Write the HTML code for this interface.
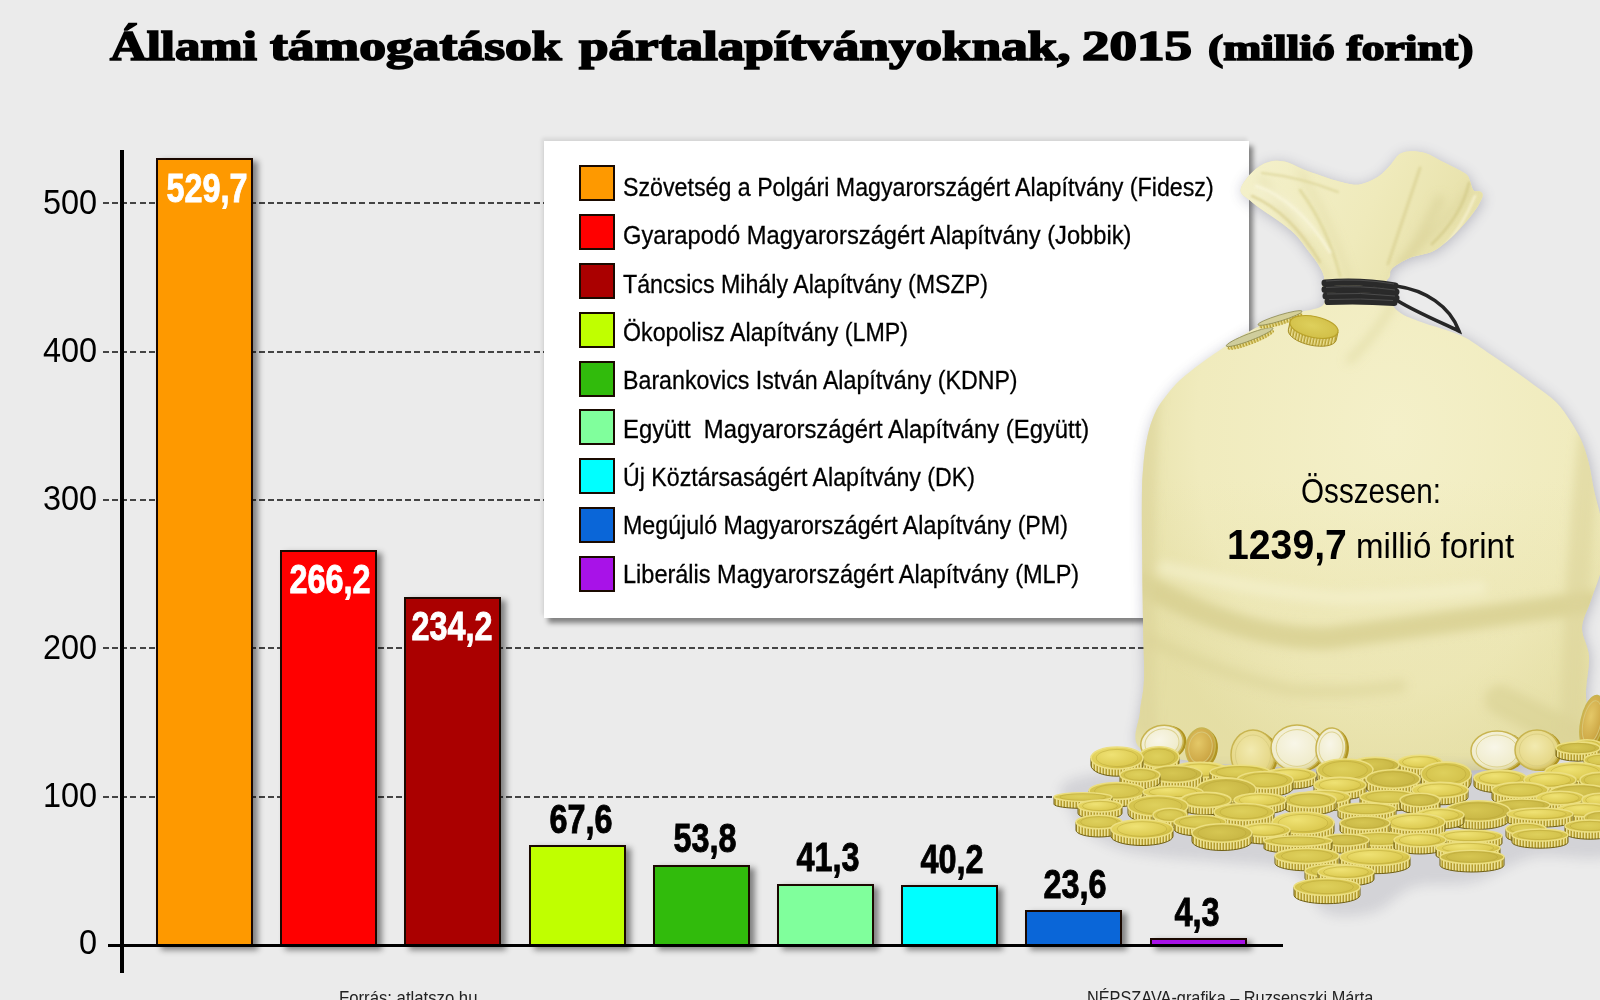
<!DOCTYPE html>
<html><head><meta charset="utf-8">
<style>
*{margin:0;padding:0;box-sizing:border-box}
html,body{width:1600px;height:1000px;overflow:hidden;background:#ebebeb}
body{position:relative;font-family:"Liberation Sans",sans-serif;color:#000}
.abs{position:absolute}
.t{position:absolute;font-family:"Liberation Serif",serif;font-weight:bold;line-height:1;white-space:nowrap;transform-origin:0 0;-webkit-text-stroke:1.7px #000}
.grid{position:absolute;left:103px;width:1190px;height:2px;background:repeating-linear-gradient(90deg,#444 0 6px,transparent 6px 9.16px)}
.ylab{position:absolute;width:80px;text-align:right;left:17px;font-size:34.5px;line-height:1;transform:scaleX(0.94);transform-origin:100% 0}
.bar{position:absolute;width:97px;border:2px solid #1a0800;box-shadow:5px 3px 6px rgba(0,0,0,0.45)}
.val{position:absolute;width:140px;text-align:center;font-weight:bold;font-size:41px;line-height:1;transform:scaleX(0.79);transform-origin:50% 0;white-space:nowrap}
.val{-webkit-text-stroke:0.9px #000}
.val.w{color:#fff;-webkit-text-stroke:0.9px #fff}
#legend{position:absolute;left:544px;top:141px;width:705px;height:477px;background:#fff;box-shadow:4px 5px 5px rgba(0,0,0,0.45),-2px -3px 4px rgba(0,0,0,0.09)}
.sw{position:absolute;left:35px;width:36px;height:36px;border:2px solid #1a0a00}
.lt{position:absolute;left:79px;font-size:26.2px;line-height:1;white-space:nowrap;transform:scaleX(0.886);transform-origin:0 0;-webkit-text-stroke:0.3px #000}
.foot{position:absolute;font-size:19px;line-height:1;color:#222;white-space:nowrap;transform:scaleX(0.88);transform-origin:0 0}
</style></head><body>
<div class="t" style="left:110px;top:24.8px;font-size:42px;transform:scaleX(1.21)">Állami</div>
<div class="t" style="left:270px;top:24.8px;font-size:42px;transform:scaleX(1.275)">támogatások</div>
<div class="t" style="left:579px;top:24.8px;font-size:42px;transform:scaleX(1.265)">pártalapítványoknak,</div>
<div class="t" style="left:1082px;top:24.8px;font-size:42px;transform:scaleX(1.31)">2015</div>
<div class="t" style="left:1208px;top:29.8px;font-size:36px;transform:scaleX(1.27)">(millió forint)</div>

<div class="grid" style="top:202.3px;width:1140px"></div>
<div class="grid" style="top:350.6px"></div>
<div class="grid" style="top:499px"></div>
<div class="grid" style="top:647.3px"></div>
<div class="grid" style="top:795.6px"></div>

<div class="ylab" style="top:184.5px">500</div>
<div class="ylab" style="top:332.8px">400</div>
<div class="ylab" style="top:481.2px">300</div>
<div class="ylab" style="top:629.5px">200</div>
<div class="ylab" style="top:777.8px">100</div>
<div class="ylab" style="top:925px">0</div>

<div class="abs" style="left:120px;top:150px;width:3.5px;height:823px;background:#000"></div>

<div class="bar" style="left:156px;top:158px;height:789px;background:#fe9900"></div>
<div class="bar" style="left:280px;top:549.5px;height:397.5px;background:#ff0000"></div>
<div class="bar" style="left:404px;top:597px;height:350px;background:#aa0000"></div>
<div class="bar" style="left:528.5px;top:844.5px;height:102.5px;background:#c0ff00"></div>
<div class="bar" style="left:652.5px;top:865px;height:82px;background:#31bb0c"></div>
<div class="bar" style="left:777px;top:883.5px;height:63.5px;background:#80ff9c"></div>
<div class="bar" style="left:901px;top:885px;height:62px;background:#00ffff"></div>
<div class="bar" style="left:1025px;top:909.5px;height:37.5px;background:#0a66d8"></div>
<div class="bar" style="left:1149.5px;top:938px;height:9px;background:#a812e8"></div>

<div class="abs" style="left:108px;top:944px;width:1175px;height:3.2px;background:#000"></div>

<div class="val w" style="left:137px;top:168px">529,7</div>
<div class="val w" style="left:260px;top:558.5px">266,2</div>
<div class="val w" style="left:382px;top:606px">234,2</div>
<div class="val" style="left:511px;top:799px">67,6</div>
<div class="val" style="left:635px;top:817.5px">53,8</div>
<div class="val" style="left:757.5px;top:837px">41,3</div>
<div class="val" style="left:881.5px;top:839px">40,2</div>
<div class="val" style="left:1004.5px;top:864px">23,6</div>
<div class="val" style="left:1127px;top:892px">4,3</div>

<div id="legend">
<div class="sw" style="top:24px;background:#fe9900"></div><div class="lt" style="top:33.00px">Szövetség a Polgári Magyarországért Alapítvány (Fidesz)</div>
<div class="sw" style="top:73px;background:#ff0000"></div><div class="lt" style="top:81.33px;transform:scaleX(0.905)">Gyarapodó Magyarországért Alapítvány (Jobbik)</div>
<div class="sw" style="top:121.75px;background:#aa0000"></div><div class="lt" style="top:129.66px">Táncsics Mihály Alapítvány (MSZP)</div>
<div class="sw" style="top:170.6px;background:#c0ff00"></div><div class="lt" style="top:177.99px">Ökopolisz Alapítvány (LMP)</div>
<div class="sw" style="top:219.5px;background:#31bb0c"></div><div class="lt" style="top:226.32px">Barankovics István Alapítvány (KDNP)</div>
<div class="sw" style="top:268.4px;background:#80ff9c"></div><div class="lt" style="top:274.65px;transform:scaleX(0.91)">Együtt&nbsp; Magyarországért Alapítvány (Együtt)</div>
<div class="sw" style="top:317.25px;background:#00ffff"></div><div class="lt" style="top:322.98px">Új Köztársaságért Alapítvány (DK)</div>
<div class="sw" style="top:366.1px;background:#0a66d8"></div><div class="lt" style="top:371.31px">Megújuló Magyarországért Alapítvány (PM)</div>
<div class="sw" style="top:415px;background:#a812e8"></div><div class="lt" style="top:419.64px;transform:scaleX(0.898)">Liberális Magyarországért Alapítvány (MLP)</div>
</div>


<svg class="abs" style="left:0;top:0" width="1600" height="1000" viewBox="0 0 1600 1000">
<defs>
 <radialGradient id="bagg" cx="0.55" cy="0.45" r="0.6">
  <stop offset="0" stop-color="#f4f0c9"/>
  <stop offset="0.7" stop-color="#f0ebbd"/>
  <stop offset="1" stop-color="#e6e0a8"/>
 </radialGradient>
 <linearGradient id="flapg" x1="0" y1="0" x2="1" y2="0.3">
  <stop offset="0" stop-color="#f4f1cc"/>
  <stop offset="0.6" stop-color="#efeabb"/>
  <stop offset="1" stop-color="#e7e1aa"/>
 </linearGradient>
 <radialGradient id="face" cx="0.45" cy="0.45" r="0.6">
  <stop offset="0" stop-color="#ded05c"/>
  <stop offset="0.85" stop-color="#d3c14a"/>
  <stop offset="1" stop-color="#c4b03a"/>
 </radialGradient>
 <radialGradient id="faceB" cx="0.4" cy="0.35" r="0.65">
  <stop offset="0" stop-color="#efe274"/>
  <stop offset="0.8" stop-color="#ddcb52"/>
  <stop offset="1" stop-color="#cab63e"/>
 </radialGradient>
 <radialGradient id="faceC" cx="0.45" cy="0.45" r="0.6">
  <stop offset="0" stop-color="#d6c652"/>
  <stop offset="0.85" stop-color="#c8b644"/>
  <stop offset="1" stop-color="#b6a234"/>
 </radialGradient>
 <radialGradient id="oface" cx="0.4" cy="0.4" r="0.65">
  <stop offset="0" stop-color="#e4c868"/>
  <stop offset="0.8" stop-color="#cca644"/>
  <stop offset="1" stop-color="#b08a2c"/>
 </radialGradient>
 <radialGradient id="lface" cx="0.45" cy="0.4" r="0.6">
  <stop offset="0" stop-color="#f2eab0"/>
  <stop offset="0.8" stop-color="#e6d888"/>
  <stop offset="1" stop-color="#d4c060"/>
 </radialGradient>
 <radialGradient id="wface" cx="0.45" cy="0.4" r="0.6">
  <stop offset="0" stop-color="#f8f6e8"/>
  <stop offset="0.8" stop-color="#f0eccc"/>
  <stop offset="1" stop-color="#ddd498"/>
 </radialGradient>
 <pattern id="ridge" width="3" height="20" patternUnits="userSpaceOnUse">
  <rect width="3" height="20" fill="#b49c2e"/>
  <rect width="1.5" height="20" fill="#ece296"/>
 </pattern>
 <clipPath id="bagclip"><path d="M1240.6,190.4 C1240.6,186.2 1245.8,179.3 1249.5,175.0 C1253.2,170.7 1258.2,166.8 1262.5,164.4 C1266.8,162.0 1271.2,161.1 1275.5,160.8 C1279.8,160.5 1283.6,161.2 1288.5,162.7 C1293.4,164.2 1299.3,167.8 1304.7,170.0 C1310.1,172.2 1315.8,173.9 1321.0,175.7 C1326.2,177.5 1330.2,179.1 1335.6,180.6 C1341.0,182.1 1348.6,184.3 1353.5,184.7 C1358.4,185.1 1360.7,184.5 1365.0,183.0 C1369.3,181.5 1375.2,178.8 1379.5,175.7 C1383.8,172.6 1387.8,167.9 1391.0,164.4 C1394.2,160.9 1396.0,156.8 1399.0,154.6 C1402.0,152.4 1404.4,151.7 1408.7,151.4 C1413.0,151.1 1419.6,151.4 1425.0,153.0 C1430.4,154.6 1435.6,158.3 1441.0,161.0 C1446.4,163.7 1453.2,166.9 1457.5,169.2 C1461.8,171.5 1464.9,173.0 1467.0,175.0 C1469.1,177.0 1468.9,178.4 1470.0,181.0 C1471.1,183.6 1472.0,188.8 1473.7,190.5 C1475.4,192.2 1478.5,190.7 1480.0,191.5 C1481.5,192.3 1482.9,193.2 1482.7,195.5 C1482.5,197.8 1480.6,201.5 1478.6,205.0 C1476.6,208.5 1473.5,212.6 1470.5,216.4 C1467.5,220.2 1464.5,223.6 1460.7,227.7 C1456.9,231.8 1452.6,236.6 1447.7,240.7 C1442.8,244.8 1437.5,249.3 1431.5,252.0 C1425.5,254.7 1417.4,255.1 1412.0,257.0 C1406.6,258.9 1402.5,261.3 1399.0,263.5 C1395.5,265.7 1393.0,267.2 1391.0,270.0 C1389.0,272.8 1387.2,276.3 1387.0,280.0 C1386.8,283.7 1389.2,288.0 1390.0,292.0 C1390.8,296.0 1390.0,300.3 1392.0,304.0 C1394.0,307.7 1396.7,310.8 1402.0,314.0 C1407.3,317.2 1416.7,320.3 1424.0,323.0 C1431.3,325.7 1439.0,327.5 1446.0,330.0 C1453.0,332.5 1458.7,334.0 1466.0,338.0 C1473.3,342.0 1482.3,348.8 1490.0,354.0 C1497.7,359.2 1504.7,363.8 1512.0,369.0 C1519.3,374.2 1526.7,379.5 1534.0,385.0 C1541.3,390.5 1549.8,395.8 1556.0,402.0 C1562.2,408.2 1566.7,415.3 1571.0,422.0 C1575.3,428.7 1579.0,435.0 1582.0,442.0 C1585.0,449.0 1587.0,456.0 1589.0,464.0 C1591.0,472.0 1591.7,479.0 1594.0,490.0 C1596.3,501.0 1601.7,517.3 1603.0,530.0 C1604.3,542.7 1604.0,554.3 1602.0,566.0 C1600.0,577.7 1594.3,589.7 1591.0,600.0 C1587.7,610.3 1582.3,618.7 1582.0,628.0 C1581.7,637.3 1588.3,645.7 1589.0,656.0 C1589.7,666.3 1586.5,679.0 1586.0,690.0 C1585.5,701.0 1588.3,712.3 1586.0,722.0 C1583.7,731.7 1586.3,740.3 1572.0,748.0 C1557.7,755.7 1528.7,764.0 1500.0,768.0 C1471.3,772.0 1433.3,772.0 1400.0,772.0 C1366.7,772.0 1333.3,769.7 1300.0,768.0 C1266.7,766.3 1226.7,765.3 1200.0,762.0 C1173.3,758.7 1150.0,756.3 1140.0,748.0 C1130.0,739.7 1139.3,723.3 1140.0,712.0 C1140.7,700.7 1143.5,695.3 1144.0,680.0 C1144.5,664.7 1143.3,643.3 1143.0,620.0 C1142.7,596.7 1142.2,561.7 1142.0,540.0 C1141.8,518.3 1141.8,501.7 1142.0,490.0 C1142.2,478.3 1142.5,476.7 1143.0,470.0 C1143.5,463.3 1144.0,456.7 1145.0,450.0 C1146.0,443.3 1147.2,436.5 1149.0,430.0 C1150.8,423.5 1153.2,416.7 1156.0,411.0 C1158.8,405.3 1162.0,401.2 1166.0,396.0 C1170.0,390.8 1174.3,385.3 1180.0,380.0 C1185.7,374.7 1193.3,369.0 1200.0,364.0 C1206.7,359.0 1211.7,355.5 1220.0,350.0 C1228.3,344.5 1241.3,335.8 1250.0,331.0 C1258.7,326.2 1264.3,324.0 1272.0,321.0 C1279.7,318.0 1287.7,315.5 1296.0,313.0 C1304.3,310.5 1317.3,309.5 1322.0,306.0 C1326.7,302.5 1323.7,296.9 1324.0,292.0 C1324.3,287.1 1325.0,281.2 1324.0,276.5 C1323.0,271.8 1320.4,267.8 1317.7,263.5 C1315.0,259.2 1311.8,255.4 1308.0,250.5 C1304.2,245.6 1299.9,238.9 1295.0,234.0 C1290.1,229.1 1284.1,225.0 1278.7,221.0 C1273.3,217.0 1267.4,213.5 1262.5,210.0 C1257.6,206.5 1253.2,203.3 1249.5,200.0 C1245.8,196.7 1240.6,194.6 1240.6,190.4Z"/></clipPath>
 <linearGradient id="lowg" x1="0" y1="0" x2="0" y2="1">
  <stop offset="0" stop-color="#e2da9c" stop-opacity="0"/>
  <stop offset="0.5" stop-color="#e2da9c" stop-opacity="0.25"/>
  <stop offset="1" stop-color="#e2da9c" stop-opacity="0.35"/>
 </linearGradient>
 <filter id="fold2" x="-20%" y="-20%" width="140%" height="140%"><feGaussianBlur stdDeviation="1.2"/></filter>
 <filter id="fold" x="-20%" y="-20%" width="140%" height="140%"><feGaussianBlur stdDeviation="5"/></filter>
 <filter id="bs" x="-10%" y="-10%" width="120%" height="120%"><feGaussianBlur stdDeviation="7"/></filter>
 <filter id="cs" x="-10%" y="-30%" width="120%" height="160%"><feGaussianBlur stdDeviation="6"/></filter>
</defs>
<path d="M1240.6,190.4 C1240.6,186.2 1245.8,179.3 1249.5,175.0 C1253.2,170.7 1258.2,166.8 1262.5,164.4 C1266.8,162.0 1271.2,161.1 1275.5,160.8 C1279.8,160.5 1283.6,161.2 1288.5,162.7 C1293.4,164.2 1299.3,167.8 1304.7,170.0 C1310.1,172.2 1315.8,173.9 1321.0,175.7 C1326.2,177.5 1330.2,179.1 1335.6,180.6 C1341.0,182.1 1348.6,184.3 1353.5,184.7 C1358.4,185.1 1360.7,184.5 1365.0,183.0 C1369.3,181.5 1375.2,178.8 1379.5,175.7 C1383.8,172.6 1387.8,167.9 1391.0,164.4 C1394.2,160.9 1396.0,156.8 1399.0,154.6 C1402.0,152.4 1404.4,151.7 1408.7,151.4 C1413.0,151.1 1419.6,151.4 1425.0,153.0 C1430.4,154.6 1435.6,158.3 1441.0,161.0 C1446.4,163.7 1453.2,166.9 1457.5,169.2 C1461.8,171.5 1464.9,173.0 1467.0,175.0 C1469.1,177.0 1468.9,178.4 1470.0,181.0 C1471.1,183.6 1472.0,188.8 1473.7,190.5 C1475.4,192.2 1478.5,190.7 1480.0,191.5 C1481.5,192.3 1482.9,193.2 1482.7,195.5 C1482.5,197.8 1480.6,201.5 1478.6,205.0 C1476.6,208.5 1473.5,212.6 1470.5,216.4 C1467.5,220.2 1464.5,223.6 1460.7,227.7 C1456.9,231.8 1452.6,236.6 1447.7,240.7 C1442.8,244.8 1437.5,249.3 1431.5,252.0 C1425.5,254.7 1417.4,255.1 1412.0,257.0 C1406.6,258.9 1402.5,261.3 1399.0,263.5 C1395.5,265.7 1393.0,267.2 1391.0,270.0 C1389.0,272.8 1387.2,276.3 1387.0,280.0 C1386.8,283.7 1389.2,288.0 1390.0,292.0 C1390.8,296.0 1390.0,300.3 1392.0,304.0 C1394.0,307.7 1396.7,310.8 1402.0,314.0 C1407.3,317.2 1416.7,320.3 1424.0,323.0 C1431.3,325.7 1439.0,327.5 1446.0,330.0 C1453.0,332.5 1458.7,334.0 1466.0,338.0 C1473.3,342.0 1482.3,348.8 1490.0,354.0 C1497.7,359.2 1504.7,363.8 1512.0,369.0 C1519.3,374.2 1526.7,379.5 1534.0,385.0 C1541.3,390.5 1549.8,395.8 1556.0,402.0 C1562.2,408.2 1566.7,415.3 1571.0,422.0 C1575.3,428.7 1579.0,435.0 1582.0,442.0 C1585.0,449.0 1587.0,456.0 1589.0,464.0 C1591.0,472.0 1591.7,479.0 1594.0,490.0 C1596.3,501.0 1601.7,517.3 1603.0,530.0 C1604.3,542.7 1604.0,554.3 1602.0,566.0 C1600.0,577.7 1594.3,589.7 1591.0,600.0 C1587.7,610.3 1582.3,618.7 1582.0,628.0 C1581.7,637.3 1588.3,645.7 1589.0,656.0 C1589.7,666.3 1586.5,679.0 1586.0,690.0 C1585.5,701.0 1588.3,712.3 1586.0,722.0 C1583.7,731.7 1586.3,740.3 1572.0,748.0 C1557.7,755.7 1528.7,764.0 1500.0,768.0 C1471.3,772.0 1433.3,772.0 1400.0,772.0 C1366.7,772.0 1333.3,769.7 1300.0,768.0 C1266.7,766.3 1226.7,765.3 1200.0,762.0 C1173.3,758.7 1150.0,756.3 1140.0,748.0 C1130.0,739.7 1139.3,723.3 1140.0,712.0 C1140.7,700.7 1143.5,695.3 1144.0,680.0 C1144.5,664.7 1143.3,643.3 1143.0,620.0 C1142.7,596.7 1142.2,561.7 1142.0,540.0 C1141.8,518.3 1141.8,501.7 1142.0,490.0 C1142.2,478.3 1142.5,476.7 1143.0,470.0 C1143.5,463.3 1144.0,456.7 1145.0,450.0 C1146.0,443.3 1147.2,436.5 1149.0,430.0 C1150.8,423.5 1153.2,416.7 1156.0,411.0 C1158.8,405.3 1162.0,401.2 1166.0,396.0 C1170.0,390.8 1174.3,385.3 1180.0,380.0 C1185.7,374.7 1193.3,369.0 1200.0,364.0 C1206.7,359.0 1211.7,355.5 1220.0,350.0 C1228.3,344.5 1241.3,335.8 1250.0,331.0 C1258.7,326.2 1264.3,324.0 1272.0,321.0 C1279.7,318.0 1287.7,315.5 1296.0,313.0 C1304.3,310.5 1317.3,309.5 1322.0,306.0 C1326.7,302.5 1323.7,296.9 1324.0,292.0 C1324.3,287.1 1325.0,281.2 1324.0,276.5 C1323.0,271.8 1320.4,267.8 1317.7,263.5 C1315.0,259.2 1311.8,255.4 1308.0,250.5 C1304.2,245.6 1299.9,238.9 1295.0,234.0 C1290.1,229.1 1284.1,225.0 1278.7,221.0 C1273.3,217.0 1267.4,213.5 1262.5,210.0 C1257.6,206.5 1253.2,203.3 1249.5,200.0 C1245.8,196.7 1240.6,194.6 1240.6,190.4Z" fill="#40405e" opacity="0.3" filter="url(#bs)" transform="translate(1,2)"/>
<path d="M1240.6,190.4 C1240.6,186.2 1245.8,179.3 1249.5,175.0 C1253.2,170.7 1258.2,166.8 1262.5,164.4 C1266.8,162.0 1271.2,161.1 1275.5,160.8 C1279.8,160.5 1283.6,161.2 1288.5,162.7 C1293.4,164.2 1299.3,167.8 1304.7,170.0 C1310.1,172.2 1315.8,173.9 1321.0,175.7 C1326.2,177.5 1330.2,179.1 1335.6,180.6 C1341.0,182.1 1348.6,184.3 1353.5,184.7 C1358.4,185.1 1360.7,184.5 1365.0,183.0 C1369.3,181.5 1375.2,178.8 1379.5,175.7 C1383.8,172.6 1387.8,167.9 1391.0,164.4 C1394.2,160.9 1396.0,156.8 1399.0,154.6 C1402.0,152.4 1404.4,151.7 1408.7,151.4 C1413.0,151.1 1419.6,151.4 1425.0,153.0 C1430.4,154.6 1435.6,158.3 1441.0,161.0 C1446.4,163.7 1453.2,166.9 1457.5,169.2 C1461.8,171.5 1464.9,173.0 1467.0,175.0 C1469.1,177.0 1468.9,178.4 1470.0,181.0 C1471.1,183.6 1472.0,188.8 1473.7,190.5 C1475.4,192.2 1478.5,190.7 1480.0,191.5 C1481.5,192.3 1482.9,193.2 1482.7,195.5 C1482.5,197.8 1480.6,201.5 1478.6,205.0 C1476.6,208.5 1473.5,212.6 1470.5,216.4 C1467.5,220.2 1464.5,223.6 1460.7,227.7 C1456.9,231.8 1452.6,236.6 1447.7,240.7 C1442.8,244.8 1437.5,249.3 1431.5,252.0 C1425.5,254.7 1417.4,255.1 1412.0,257.0 C1406.6,258.9 1402.5,261.3 1399.0,263.5 C1395.5,265.7 1393.0,267.2 1391.0,270.0 C1389.0,272.8 1387.2,276.3 1387.0,280.0 C1386.8,283.7 1389.2,288.0 1390.0,292.0 C1390.8,296.0 1390.0,300.3 1392.0,304.0 C1394.0,307.7 1396.7,310.8 1402.0,314.0 C1407.3,317.2 1416.7,320.3 1424.0,323.0 C1431.3,325.7 1439.0,327.5 1446.0,330.0 C1453.0,332.5 1458.7,334.0 1466.0,338.0 C1473.3,342.0 1482.3,348.8 1490.0,354.0 C1497.7,359.2 1504.7,363.8 1512.0,369.0 C1519.3,374.2 1526.7,379.5 1534.0,385.0 C1541.3,390.5 1549.8,395.8 1556.0,402.0 C1562.2,408.2 1566.7,415.3 1571.0,422.0 C1575.3,428.7 1579.0,435.0 1582.0,442.0 C1585.0,449.0 1587.0,456.0 1589.0,464.0 C1591.0,472.0 1591.7,479.0 1594.0,490.0 C1596.3,501.0 1601.7,517.3 1603.0,530.0 C1604.3,542.7 1604.0,554.3 1602.0,566.0 C1600.0,577.7 1594.3,589.7 1591.0,600.0 C1587.7,610.3 1582.3,618.7 1582.0,628.0 C1581.7,637.3 1588.3,645.7 1589.0,656.0 C1589.7,666.3 1586.5,679.0 1586.0,690.0 C1585.5,701.0 1588.3,712.3 1586.0,722.0 C1583.7,731.7 1586.3,740.3 1572.0,748.0 C1557.7,755.7 1528.7,764.0 1500.0,768.0 C1471.3,772.0 1433.3,772.0 1400.0,772.0 C1366.7,772.0 1333.3,769.7 1300.0,768.0 C1266.7,766.3 1226.7,765.3 1200.0,762.0 C1173.3,758.7 1150.0,756.3 1140.0,748.0 C1130.0,739.7 1139.3,723.3 1140.0,712.0 C1140.7,700.7 1143.5,695.3 1144.0,680.0 C1144.5,664.7 1143.3,643.3 1143.0,620.0 C1142.7,596.7 1142.2,561.7 1142.0,540.0 C1141.8,518.3 1141.8,501.7 1142.0,490.0 C1142.2,478.3 1142.5,476.7 1143.0,470.0 C1143.5,463.3 1144.0,456.7 1145.0,450.0 C1146.0,443.3 1147.2,436.5 1149.0,430.0 C1150.8,423.5 1153.2,416.7 1156.0,411.0 C1158.8,405.3 1162.0,401.2 1166.0,396.0 C1170.0,390.8 1174.3,385.3 1180.0,380.0 C1185.7,374.7 1193.3,369.0 1200.0,364.0 C1206.7,359.0 1211.7,355.5 1220.0,350.0 C1228.3,344.5 1241.3,335.8 1250.0,331.0 C1258.7,326.2 1264.3,324.0 1272.0,321.0 C1279.7,318.0 1287.7,315.5 1296.0,313.0 C1304.3,310.5 1317.3,309.5 1322.0,306.0 C1326.7,302.5 1323.7,296.9 1324.0,292.0 C1324.3,287.1 1325.0,281.2 1324.0,276.5 C1323.0,271.8 1320.4,267.8 1317.7,263.5 C1315.0,259.2 1311.8,255.4 1308.0,250.5 C1304.2,245.6 1299.9,238.9 1295.0,234.0 C1290.1,229.1 1284.1,225.0 1278.7,221.0 C1273.3,217.0 1267.4,213.5 1262.5,210.0 C1257.6,206.5 1253.2,203.3 1249.5,200.0 C1245.8,196.7 1240.6,194.6 1240.6,190.4Z" fill="url(#bagg)"/>
<path d="M1240.6,190.4 C1240.6,186.2 1245.8,179.3 1249.5,175.0 C1253.2,170.7 1258.2,166.8 1262.5,164.4 C1266.8,162.0 1271.2,161.1 1275.5,160.8 C1279.8,160.5 1283.6,161.2 1288.5,162.7 C1293.4,164.2 1299.3,167.8 1304.7,170.0 C1310.1,172.2 1315.8,173.9 1321.0,175.7 C1326.2,177.5 1330.2,179.1 1335.6,180.6 C1341.0,182.1 1348.6,184.3 1353.5,184.7 C1358.4,185.1 1360.7,184.5 1365.0,183.0 C1369.3,181.5 1375.2,178.8 1379.5,175.7 C1383.8,172.6 1387.8,167.9 1391.0,164.4 C1394.2,160.9 1396.0,156.8 1399.0,154.6 C1402.0,152.4 1404.4,151.7 1408.7,151.4 C1413.0,151.1 1419.6,151.4 1425.0,153.0 C1430.4,154.6 1435.6,158.3 1441.0,161.0 C1446.4,163.7 1453.2,166.9 1457.5,169.2 C1461.8,171.5 1464.9,173.0 1467.0,175.0 C1469.1,177.0 1468.9,178.4 1470.0,181.0 C1471.1,183.6 1472.0,188.8 1473.7,190.5 C1475.4,192.2 1478.5,190.7 1480.0,191.5 C1481.5,192.3 1482.9,193.2 1482.7,195.5 C1482.5,197.8 1480.6,201.5 1478.6,205.0 C1476.6,208.5 1473.5,212.6 1470.5,216.4 C1467.5,220.2 1464.5,223.6 1460.7,227.7 C1456.9,231.8 1452.6,236.6 1447.7,240.7 C1442.8,244.8 1437.5,249.3 1431.5,252.0 C1425.5,254.7 1417.4,255.1 1412.0,257.0 C1406.6,258.9 1402.5,261.3 1399.0,263.5 C1395.5,265.7 1393.0,267.2 1391.0,270.0 C1389.0,272.8 1392.2,276.3 1387.0,280.0 C1381.8,283.7 1370.3,290.3 1360.0,292.0 C1349.7,293.7 1331.0,292.6 1325.0,290.0 C1319.0,287.4 1325.2,280.9 1324.0,276.5 C1322.8,272.1 1320.4,267.8 1317.7,263.5 C1315.0,259.2 1311.8,255.4 1308.0,250.5 C1304.2,245.6 1299.9,238.9 1295.0,234.0 C1290.1,229.1 1284.1,225.0 1278.7,221.0 C1273.3,217.0 1267.4,213.5 1262.5,210.0 C1257.6,206.5 1253.2,203.3 1249.5,200.0 C1245.8,196.7 1240.6,194.6 1240.6,190.4Z" fill="url(#flapg)"/>
<g clip-path="url(#bagclip)">
<rect x="1130" y="480" width="480" height="300" fill="url(#lowg)"/>
<g fill="none" stroke-linecap="round" filter="url(#fold)">
 <path d="M1140,583 Q1250,642 1330,638 Q1450,622 1590,602" stroke="#d6cd8e" stroke-width="22" opacity="0.75"/>
 <path d="M1165,568 Q1260,592 1340,598 Q1420,596 1480,588" stroke="#f5f1cf" stroke-width="14" opacity="0.6"/>
 <path d="M1150,640 Q1226,676 1290,690 Q1350,694 1400,686" stroke="#d9d094" stroke-width="14" opacity="0.45"/>
 <path d="M1500,700 Q1540,720 1580,740" stroke="#d6cd8e" stroke-width="30" opacity="0.5"/>
 <path d="M1150,375 Q1140,550 1146,725" stroke="#dcd49a" stroke-width="22" opacity="0.6"/>
 <path d="M1590,440 Q1575,580 1572,730" stroke="#dcd49a" stroke-width="24" opacity="0.6"/>
 <path d="M1262,180 Q1300,230 1330,280" stroke="#dcd59a" stroke-width="6" opacity="0.55"/>
 <path d="M1300,172 Q1330,220 1350,282" stroke="#dcd59a" stroke-width="5" opacity="0.55"/>
 <path d="M1440,200 Q1420,240 1395,280" stroke="#d8d196" stroke-width="10" opacity="0.6"/>
 <path d="M1470,190 Q1440,230 1400,262" stroke="#d8d196" stroke-width="6" opacity="0.6"/>
 <path d="M1395,300 Q1380,330 1350,360" stroke="#dcd59a" stroke-width="8" opacity="0.5"/>
 <path d="M1260,190 Q1290,200 1310,230" stroke="#f7f4d8" stroke-width="8" opacity="0.6"/>
</g>
<g fill="none" stroke-linecap="round" filter="url(#fold2)">
 <path d="M1252,196 Q1290,212 1320,262" stroke="#d9d092" stroke-width="2.5" opacity="0.8"/>
 <path d="M1262,173 Q1300,177 1338,192" stroke="#d9d092" stroke-width="2" opacity="0.7"/>
 <path d="M1300,190 Q1328,228 1340,276" stroke="#dcd496" stroke-width="3" opacity="0.7"/>
 <path d="M1256,186 Q1298,200 1330,252" stroke="#f8f5da" stroke-width="3" opacity="0.8"/>
 <path d="M1469,183 Q1462,215 1432,244" stroke="#d5cc8c" stroke-width="3" opacity="0.8"/>
 <path d="M1475,196 Q1462,228 1442,249" stroke="#f7f3d4" stroke-width="2.5" opacity="0.8"/>
 <path d="M1420,168 Q1402,222 1388,264" stroke="#d9d092" stroke-width="3" opacity="0.7"/>
</g></g>
<!-- tie -->
<path d="M1396,286 C1425,290 1450,306 1459,331 C1440,322 1416,312 1398,301" fill="none" stroke="#262626" stroke-width="3.6" stroke-linecap="round"/>
<g fill="none" stroke="#2a2a2a" stroke-width="7" stroke-linecap="round">
 <path d="M1325,283 Q1360,280 1395,286"/>
 <path d="M1325,289.5 Q1360,287 1396,292"/>
 <path d="M1326,296 Q1360,294 1396,298"/>
 <path d="M1328,301.5 Q1360,300 1394,302.5"/>
</g>
<g fill="none" stroke="#555" stroke-width="1" opacity="0.8">
 <path d="M1326,281 Q1360,278 1394,284"/>
 <path d="M1326,287.5 Q1360,285 1395,290"/>
 <path d="M1327,294 Q1360,292 1395,296"/>
 <path d="M1329,299.5 Q1360,298 1393,300.5"/>
</g>
<!-- coins near neck -->
<g transform="rotate(-21 1250 338)">
 <ellipse cx="1250" cy="340" rx="25" ry="4.5" fill="url(#ridge)"/>
 <ellipse cx="1250" cy="337" rx="25" ry="3.5" fill="#cfcd9c" stroke="#8f8d55" stroke-width="0.8"/>
</g>
<g transform="rotate(-17 1280 318)">
 <ellipse cx="1280" cy="321" rx="23" ry="4" fill="url(#ridge)"/>
 <ellipse cx="1280" cy="318" rx="23" ry="3" fill="#d5d09a" stroke="#8f8d55" stroke-width="0.8"/>
</g>
<g transform="rotate(12 1314 327)">
 <path d="M1289.5,327 L1289.5,335 A24.5,10.5 0 0 0 1338.5,335 L1338.5,327 Z" fill="url(#ridge)" stroke="#9c8418" stroke-width="0.8"/>
 <ellipse cx="1314" cy="327" rx="24.5" ry="10.5" fill="url(#face)" stroke="#b9a22a" stroke-width="1.2"/>
</g>
<path d="M1060.0,805.0 C1060.0,817.5 1085.0,828.3 1100.0,835.0 C1115.0,841.7 1131.7,842.5 1150.0,845.0 C1168.3,847.5 1188.3,847.5 1210.0,850.0 C1231.7,852.5 1263.3,851.7 1280.0,860.0 C1296.7,868.3 1296.7,893.3 1310.0,900.0 C1323.3,906.7 1345.0,904.2 1360.0,900.0 C1375.0,895.8 1383.3,880.0 1400.0,875.0 C1416.7,870.0 1440.0,875.0 1460.0,870.0 C1480.0,865.0 1496.7,850.0 1520.0,845.0 C1543.3,840.0 1586.7,854.2 1600.0,840.0 C1613.3,825.8 1683.3,773.3 1600.0,760.0 C1516.7,746.7 1190.0,752.5 1100.0,760.0 C1010.0,767.5 1060.0,792.5 1060.0,805.0Z" fill="#6a6a80" opacity="0.18" filter="url(#cs)" transform="translate(14,12)"/>
<g transform="rotate(-15 1162.0 743.0)"><ellipse cx="1165.0" cy="744.0" rx="21.5" ry="17.5" fill="#b09420"/><ellipse cx="1162.0" cy="743.0" rx="21.5" ry="17.5" fill="url(#wface)" stroke="#c8b450" stroke-width="1.5"/><ellipse cx="1162.0" cy="743.0" rx="17.2" ry="14.0" fill="none" stroke="#d8cc80" stroke-width="1" opacity="0.8"/></g><g transform="rotate(10 1200.5 747.5)"><ellipse cx="1203.5" cy="748.5" rx="14.5" ry="19.5" fill="#b09420"/><ellipse cx="1200.5" cy="747.5" rx="14.5" ry="19.5" fill="url(#oface)" stroke="#c8b450" stroke-width="1.5"/><ellipse cx="1200.5" cy="747.5" rx="11.6" ry="15.6" fill="none" stroke="#d8cc80" stroke-width="1" opacity="0.8"/></g><g transform="rotate(0 1253.0 755.0)"><ellipse cx="1256.0" cy="756.0" rx="22.0" ry="25.0" fill="#b09420"/><ellipse cx="1253.0" cy="755.0" rx="22.0" ry="25.0" fill="url(#lface)" stroke="#c8b450" stroke-width="1.5"/><ellipse cx="1253.0" cy="755.0" rx="17.6" ry="20.0" fill="none" stroke="#d8cc80" stroke-width="1" opacity="0.8"/></g><g transform="rotate(0 1297.0 748.0)"><ellipse cx="1300.0" cy="749.0" rx="26.0" ry="23.0" fill="#b09420"/><ellipse cx="1297.0" cy="748.0" rx="26.0" ry="23.0" fill="url(#wface)" stroke="#c8b450" stroke-width="1.5"/><ellipse cx="1297.0" cy="748.0" rx="20.8" ry="18.4" fill="none" stroke="#d8cc80" stroke-width="1" opacity="0.8"/></g><g transform="rotate(5 1331.0 748.0)"><ellipse cx="1334.0" cy="749.0" rx="15.0" ry="20.0" fill="#b09420"/><ellipse cx="1331.0" cy="748.0" rx="15.0" ry="20.0" fill="url(#wface)" stroke="#c8b450" stroke-width="1.5"/><ellipse cx="1331.0" cy="748.0" rx="12.0" ry="16.0" fill="none" stroke="#d8cc80" stroke-width="1" opacity="0.8"/></g><g transform="rotate(0 1497.0 751.0)"><ellipse cx="1500.0" cy="752.0" rx="26.0" ry="20.0" fill="#b09420"/><ellipse cx="1497.0" cy="751.0" rx="26.0" ry="20.0" fill="url(#wface)" stroke="#c8b450" stroke-width="1.5"/><ellipse cx="1497.0" cy="751.0" rx="20.8" ry="16.0" fill="none" stroke="#d8cc80" stroke-width="1" opacity="0.8"/></g><g transform="rotate(0 1537.0 750.0)"><ellipse cx="1540.0" cy="751.0" rx="22.0" ry="20.0" fill="#b09420"/><ellipse cx="1537.0" cy="750.0" rx="22.0" ry="20.0" fill="url(#lface)" stroke="#c8b450" stroke-width="1.5"/><ellipse cx="1537.0" cy="750.0" rx="17.6" ry="16.0" fill="none" stroke="#d8cc80" stroke-width="1" opacity="0.8"/></g><g transform="rotate(12 1592.0 722.0)"><ellipse cx="1595.0" cy="723.0" rx="11.0" ry="27.0" fill="#b09420"/><ellipse cx="1592.0" cy="722.0" rx="11.0" ry="27.0" fill="url(#oface)" stroke="#c8b450" stroke-width="1.5"/><ellipse cx="1592.0" cy="722.0" rx="8.8" ry="21.6" fill="none" stroke="#d8cc80" stroke-width="1" opacity="0.8"/></g>
<path d="M1572.0,745.0 L1572.0,752.2 A15.0,5.1 0 0 0 1602.0,752.2 L1602.0,745.0 Z" fill="url(#ridge)" stroke="#6e5e14" stroke-width="1"/><ellipse cx="1587.0" cy="745.0" rx="15.0" ry="5.1" fill="url(#faceB)" stroke="#ecdf80" stroke-width="1.6"/><ellipse cx="1587.0" cy="745.0" rx="12.0" ry="4.0" fill="none" stroke="#b8a436" stroke-width="0.8" opacity="0.6"/><path d="M1556.0,748.0 L1556.0,755.2 A22.0,6.0 0 0 0 1600.0,755.2 L1600.0,748.0 Z" fill="url(#ridge)" stroke="#6e5e14" stroke-width="1"/><ellipse cx="1578.0" cy="748.0" rx="22.0" ry="6.0" fill="url(#faceC)" stroke="#ecdf80" stroke-width="1.6"/><ellipse cx="1578.0" cy="748.0" rx="17.6" ry="4.6" fill="none" stroke="#b8a436" stroke-width="0.8" opacity="0.6"/><path d="M1139.0,757.0 L1139.0,763.2 A20.0,10.2 0 0 0 1179.0,763.2 L1179.0,757.0 Z" fill="url(#ridge)" stroke="#6e5e14" stroke-width="1"/><ellipse cx="1159.0" cy="757.0" rx="20.0" ry="10.2" fill="url(#face)" stroke="#ecdf80" stroke-width="1.6"/><ellipse cx="1159.0" cy="757.0" rx="16.0" ry="8.0" fill="none" stroke="#b8a436" stroke-width="0.8" opacity="0.6"/><path d="M1091.0,758.0 L1091.0,765.2 A26.0,11.0 0 0 0 1143.0,765.2 L1143.0,758.0 Z" fill="url(#ridge)" stroke="#6e5e14" stroke-width="1"/><ellipse cx="1117.0" cy="758.0" rx="26.0" ry="11.0" fill="url(#faceB)" stroke="#ecdf80" stroke-width="1.6"/><ellipse cx="1117.0" cy="758.0" rx="20.8" ry="8.6" fill="none" stroke="#b8a436" stroke-width="0.8" opacity="0.6"/><path d="M1584.0,760.0 L1584.0,767.2 A16.0,6.0 0 0 0 1616.0,767.2 L1616.0,760.0 Z" fill="url(#ridge)" stroke="#6e5e14" stroke-width="1"/><ellipse cx="1600.0" cy="760.0" rx="16.0" ry="6.0" fill="url(#face)" stroke="#ecdf80" stroke-width="1.6"/><ellipse cx="1600.0" cy="760.0" rx="12.8" ry="4.6" fill="none" stroke="#b8a436" stroke-width="0.8" opacity="0.6"/><path d="M1398.0,762.0 L1398.0,769.2 A22.0,6.8 0 0 0 1442.0,769.2 L1442.0,762.0 Z" fill="url(#ridge)" stroke="#6e5e14" stroke-width="1"/><ellipse cx="1420.0" cy="762.0" rx="22.0" ry="6.8" fill="url(#faceB)" stroke="#ecdf80" stroke-width="1.6"/><ellipse cx="1420.0" cy="762.0" rx="17.6" ry="5.3" fill="none" stroke="#b8a436" stroke-width="0.8" opacity="0.6"/><path d="M1351.0,765.0 L1351.0,772.2 A24.0,7.6 0 0 0 1399.0,772.2 L1399.0,765.0 Z" fill="url(#ridge)" stroke="#6e5e14" stroke-width="1"/><ellipse cx="1375.0" cy="765.0" rx="24.0" ry="7.6" fill="url(#faceC)" stroke="#ecdf80" stroke-width="1.6"/><ellipse cx="1375.0" cy="765.0" rx="19.2" ry="6.0" fill="none" stroke="#b8a436" stroke-width="0.8" opacity="0.6"/><path d="M1317.0,770.0 L1317.0,778.2 A28.0,11.0 0 0 0 1373.0,778.2 L1373.0,770.0 Z" fill="url(#ridge)" stroke="#6e5e14" stroke-width="1"/><ellipse cx="1345.0" cy="770.0" rx="28.0" ry="11.0" fill="url(#face)" stroke="#ecdf80" stroke-width="1.6"/><ellipse cx="1345.0" cy="770.0" rx="22.4" ry="8.6" fill="none" stroke="#b8a436" stroke-width="0.8" opacity="0.6"/><path d="M1172.0,770.0 L1172.0,778.2 A28.0,7.6 0 0 0 1228.0,778.2 L1228.0,770.0 Z" fill="url(#ridge)" stroke="#6e5e14" stroke-width="1"/><ellipse cx="1200.0" cy="770.0" rx="28.0" ry="7.6" fill="url(#faceB)" stroke="#ecdf80" stroke-width="1.6"/><ellipse cx="1200.0" cy="770.0" rx="22.4" ry="6.0" fill="none" stroke="#b8a436" stroke-width="0.8" opacity="0.6"/><path d="M1210.0,772.0 L1210.0,780.2 A30.0,6.8 0 0 0 1270.0,780.2 L1270.0,772.0 Z" fill="url(#ridge)" stroke="#6e5e14" stroke-width="1"/><ellipse cx="1240.0" cy="772.0" rx="30.0" ry="6.8" fill="url(#face)" stroke="#ecdf80" stroke-width="1.6"/><ellipse cx="1240.0" cy="772.0" rx="24.0" ry="5.3" fill="none" stroke="#b8a436" stroke-width="0.8" opacity="0.6"/><path d="M1545.0,772.0 L1545.0,780.2 A30.0,9.3 0 0 0 1605.0,780.2 L1605.0,772.0 Z" fill="url(#ridge)" stroke="#6e5e14" stroke-width="1"/><ellipse cx="1575.0" cy="772.0" rx="30.0" ry="9.3" fill="url(#faceB)" stroke="#ecdf80" stroke-width="1.6"/><ellipse cx="1575.0" cy="772.0" rx="24.0" ry="7.3" fill="none" stroke="#b8a436" stroke-width="0.8" opacity="0.6"/><path d="M1148.0,774.0 L1148.0,784.2 A27.0,8.5 0 0 0 1202.0,784.2 L1202.0,774.0 Z" fill="url(#ridge)" stroke="#6e5e14" stroke-width="1"/><ellipse cx="1175.0" cy="774.0" rx="27.0" ry="8.5" fill="url(#faceC)" stroke="#ecdf80" stroke-width="1.6"/><ellipse cx="1175.0" cy="774.0" rx="21.6" ry="6.6" fill="none" stroke="#b8a436" stroke-width="0.8" opacity="0.6"/><path d="M1421.0,774.0 L1421.0,782.2 A25.0,11.9 0 0 0 1471.0,782.2 L1471.0,774.0 Z" fill="url(#ridge)" stroke="#6e5e14" stroke-width="1"/><ellipse cx="1446.0" cy="774.0" rx="25.0" ry="11.9" fill="url(#face)" stroke="#ecdf80" stroke-width="1.6"/><ellipse cx="1446.0" cy="774.0" rx="20.0" ry="9.3" fill="none" stroke="#b8a436" stroke-width="0.8" opacity="0.6"/><path d="M1264.0,775.0 L1264.0,782.2 A26.0,6.8 0 0 0 1316.0,782.2 L1316.0,775.0 Z" fill="url(#ridge)" stroke="#6e5e14" stroke-width="1"/><ellipse cx="1290.0" cy="775.0" rx="26.0" ry="6.8" fill="url(#faceB)" stroke="#ecdf80" stroke-width="1.6"/><ellipse cx="1290.0" cy="775.0" rx="20.8" ry="5.3" fill="none" stroke="#b8a436" stroke-width="0.8" opacity="0.6"/><path d="M1120.0,775.0 L1120.0,782.2 A20.0,6.8 0 0 0 1160.0,782.2 L1160.0,775.0 Z" fill="url(#ridge)" stroke="#6e5e14" stroke-width="1"/><ellipse cx="1140.0" cy="775.0" rx="20.0" ry="6.8" fill="url(#face)" stroke="#ecdf80" stroke-width="1.6"/><ellipse cx="1140.0" cy="775.0" rx="16.0" ry="5.3" fill="none" stroke="#b8a436" stroke-width="0.8" opacity="0.6"/><path d="M1474.0,778.0 L1474.0,785.2 A26.0,7.6 0 0 0 1526.0,785.2 L1526.0,778.0 Z" fill="url(#ridge)" stroke="#6e5e14" stroke-width="1"/><ellipse cx="1500.0" cy="778.0" rx="26.0" ry="7.6" fill="url(#faceB)" stroke="#ecdf80" stroke-width="1.6"/><ellipse cx="1500.0" cy="778.0" rx="20.8" ry="6.0" fill="none" stroke="#b8a436" stroke-width="0.8" opacity="0.6"/><path d="M1366.0,779.0 L1366.0,787.2 A27.0,9.3 0 0 0 1420.0,787.2 L1420.0,779.0 Z" fill="url(#ridge)" stroke="#6e5e14" stroke-width="1"/><ellipse cx="1393.0" cy="779.0" rx="27.0" ry="9.3" fill="url(#faceC)" stroke="#ecdf80" stroke-width="1.6"/><ellipse cx="1393.0" cy="779.0" rx="21.6" ry="7.3" fill="none" stroke="#b8a436" stroke-width="0.8" opacity="0.6"/><path d="M1237.0,780.0 L1237.0,788.2 A28.0,8.5 0 0 0 1293.0,788.2 L1293.0,780.0 Z" fill="url(#ridge)" stroke="#6e5e14" stroke-width="1"/><ellipse cx="1265.0" cy="780.0" rx="28.0" ry="8.5" fill="url(#face)" stroke="#ecdf80" stroke-width="1.6"/><ellipse cx="1265.0" cy="780.0" rx="22.4" ry="6.6" fill="none" stroke="#b8a436" stroke-width="0.8" opacity="0.6"/><path d="M1524.0,780.0 L1524.0,788.2 A26.0,7.6 0 0 0 1576.0,788.2 L1576.0,780.0 Z" fill="url(#ridge)" stroke="#6e5e14" stroke-width="1"/><ellipse cx="1550.0" cy="780.0" rx="26.0" ry="7.6" fill="url(#faceB)" stroke="#ecdf80" stroke-width="1.6"/><ellipse cx="1550.0" cy="780.0" rx="20.8" ry="6.0" fill="none" stroke="#b8a436" stroke-width="0.8" opacity="0.6"/><path d="M1580.0,780.0 L1580.0,788.2 A20.0,7.6 0 0 0 1620.0,788.2 L1620.0,780.0 Z" fill="url(#ridge)" stroke="#6e5e14" stroke-width="1"/><ellipse cx="1600.0" cy="780.0" rx="20.0" ry="7.6" fill="url(#face)" stroke="#ecdf80" stroke-width="1.6"/><ellipse cx="1600.0" cy="780.0" rx="16.0" ry="6.0" fill="none" stroke="#b8a436" stroke-width="0.8" opacity="0.6"/><path d="M1314.0,785.0 L1314.0,792.2 A26.0,7.6 0 0 0 1366.0,792.2 L1366.0,785.0 Z" fill="url(#ridge)" stroke="#6e5e14" stroke-width="1"/><ellipse cx="1340.0" cy="785.0" rx="26.0" ry="7.6" fill="url(#faceB)" stroke="#ecdf80" stroke-width="1.6"/><ellipse cx="1340.0" cy="785.0" rx="20.8" ry="6.0" fill="none" stroke="#b8a436" stroke-width="0.8" opacity="0.6"/><path d="M1196.0,790.0 L1196.0,798.2 A30.0,11.9 0 0 0 1256.0,798.2 L1256.0,790.0 Z" fill="url(#ridge)" stroke="#6e5e14" stroke-width="1"/><ellipse cx="1226.0" cy="790.0" rx="30.0" ry="11.9" fill="url(#faceC)" stroke="#ecdf80" stroke-width="1.6"/><ellipse cx="1226.0" cy="790.0" rx="24.0" ry="9.3" fill="none" stroke="#b8a436" stroke-width="0.8" opacity="0.6"/><path d="M1492.0,790.0 L1492.0,798.2 A28.0,7.6 0 0 0 1548.0,798.2 L1548.0,790.0 Z" fill="url(#ridge)" stroke="#6e5e14" stroke-width="1"/><ellipse cx="1520.0" cy="790.0" rx="28.0" ry="7.6" fill="url(#face)" stroke="#ecdf80" stroke-width="1.6"/><ellipse cx="1520.0" cy="790.0" rx="22.4" ry="6.0" fill="none" stroke="#b8a436" stroke-width="0.8" opacity="0.6"/><path d="M1412.0,790.0 L1412.0,797.2 A28.0,7.6 0 0 0 1468.0,797.2 L1468.0,790.0 Z" fill="url(#ridge)" stroke="#6e5e14" stroke-width="1"/><ellipse cx="1440.0" cy="790.0" rx="28.0" ry="7.6" fill="url(#faceB)" stroke="#ecdf80" stroke-width="1.6"/><ellipse cx="1440.0" cy="790.0" rx="22.4" ry="6.0" fill="none" stroke="#b8a436" stroke-width="0.8" opacity="0.6"/><path d="M1089.0,791.0 L1089.0,798.2 A28.0,8.5 0 0 0 1145.0,798.2 L1145.0,791.0 Z" fill="url(#ridge)" stroke="#6e5e14" stroke-width="1"/><ellipse cx="1117.0" cy="791.0" rx="28.0" ry="8.5" fill="url(#face)" stroke="#ecdf80" stroke-width="1.6"/><ellipse cx="1117.0" cy="791.0" rx="22.4" ry="6.6" fill="none" stroke="#b8a436" stroke-width="0.8" opacity="0.6"/><path d="M1143.0,792.0 L1143.0,799.2 A30.0,6.0 0 0 0 1203.0,799.2 L1203.0,792.0 Z" fill="url(#ridge)" stroke="#6e5e14" stroke-width="1"/><ellipse cx="1173.0" cy="792.0" rx="30.0" ry="6.0" fill="url(#faceB)" stroke="#ecdf80" stroke-width="1.6"/><ellipse cx="1173.0" cy="792.0" rx="24.0" ry="4.6" fill="none" stroke="#b8a436" stroke-width="0.8" opacity="0.6"/><path d="M1550.0,792.0 L1550.0,800.2 A30.0,7.6 0 0 0 1610.0,800.2 L1610.0,792.0 Z" fill="url(#ridge)" stroke="#6e5e14" stroke-width="1"/><ellipse cx="1580.0" cy="792.0" rx="30.0" ry="7.6" fill="url(#faceC)" stroke="#ecdf80" stroke-width="1.6"/><ellipse cx="1580.0" cy="792.0" rx="24.0" ry="6.0" fill="none" stroke="#b8a436" stroke-width="0.8" opacity="0.6"/><path d="M1054.0,797.0 L1054.0,804.2 A29.0,4.2 0 0 0 1112.0,804.2 L1112.0,797.0 Z" fill="url(#ridge)" stroke="#6e5e14" stroke-width="1"/><ellipse cx="1083.0" cy="797.0" rx="29.0" ry="4.2" fill="url(#face)" stroke="#ecdf80" stroke-width="1.6"/><ellipse cx="1083.0" cy="797.0" rx="23.2" ry="3.3" fill="none" stroke="#b8a436" stroke-width="0.8" opacity="0.6"/><path d="M1300.0,797.0 L1300.0,804.2 A25.0,6.8 0 0 0 1350.0,804.2 L1350.0,797.0 Z" fill="url(#ridge)" stroke="#6e5e14" stroke-width="1"/><ellipse cx="1325.0" cy="797.0" rx="25.0" ry="6.8" fill="url(#faceB)" stroke="#ecdf80" stroke-width="1.6"/><ellipse cx="1325.0" cy="797.0" rx="20.0" ry="5.3" fill="none" stroke="#b8a436" stroke-width="0.8" opacity="0.6"/><path d="M1360.0,797.0 L1360.0,804.2 A29.0,6.8 0 0 0 1418.0,804.2 L1418.0,797.0 Z" fill="url(#ridge)" stroke="#6e5e14" stroke-width="1"/><ellipse cx="1389.0" cy="797.0" rx="29.0" ry="6.8" fill="url(#face)" stroke="#ecdf80" stroke-width="1.6"/><ellipse cx="1389.0" cy="797.0" rx="23.2" ry="5.3" fill="none" stroke="#b8a436" stroke-width="0.8" opacity="0.6"/><path d="M1536.0,798.0 L1536.0,805.2 A24.0,6.8 0 0 0 1584.0,805.2 L1584.0,798.0 Z" fill="url(#ridge)" stroke="#6e5e14" stroke-width="1"/><ellipse cx="1560.0" cy="798.0" rx="24.0" ry="6.8" fill="url(#faceB)" stroke="#ecdf80" stroke-width="1.6"/><ellipse cx="1560.0" cy="798.0" rx="19.2" ry="5.3" fill="none" stroke="#b8a436" stroke-width="0.8" opacity="0.6"/><path d="M1400.0,800.0 L1400.0,807.2 A20.0,6.8 0 0 0 1440.0,807.2 L1440.0,800.0 Z" fill="url(#ridge)" stroke="#6e5e14" stroke-width="1"/><ellipse cx="1420.0" cy="800.0" rx="20.0" ry="6.8" fill="url(#faceC)" stroke="#ecdf80" stroke-width="1.6"/><ellipse cx="1420.0" cy="800.0" rx="16.0" ry="5.3" fill="none" stroke="#b8a436" stroke-width="0.8" opacity="0.6"/><path d="M1284.0,800.0 L1284.0,807.2 A26.0,7.6 0 0 0 1336.0,807.2 L1336.0,800.0 Z" fill="url(#ridge)" stroke="#6e5e14" stroke-width="1"/><ellipse cx="1310.0" cy="800.0" rx="26.0" ry="7.6" fill="url(#face)" stroke="#ecdf80" stroke-width="1.6"/><ellipse cx="1310.0" cy="800.0" rx="20.8" ry="6.0" fill="none" stroke="#b8a436" stroke-width="0.8" opacity="0.6"/><path d="M1234.0,800.0 L1234.0,807.2 A26.0,6.8 0 0 0 1286.0,807.2 L1286.0,800.0 Z" fill="url(#ridge)" stroke="#6e5e14" stroke-width="1"/><ellipse cx="1260.0" cy="800.0" rx="26.0" ry="6.8" fill="url(#faceB)" stroke="#ecdf80" stroke-width="1.6"/><ellipse cx="1260.0" cy="800.0" rx="20.8" ry="5.3" fill="none" stroke="#b8a436" stroke-width="0.8" opacity="0.6"/><path d="M1181.0,800.0 L1181.0,807.2 A25.0,7.6 0 0 0 1231.0,807.2 L1231.0,800.0 Z" fill="url(#ridge)" stroke="#6e5e14" stroke-width="1"/><ellipse cx="1206.0" cy="800.0" rx="25.0" ry="7.6" fill="url(#face)" stroke="#ecdf80" stroke-width="1.6"/><ellipse cx="1206.0" cy="800.0" rx="20.0" ry="6.0" fill="none" stroke="#b8a436" stroke-width="0.8" opacity="0.6"/><path d="M1582.0,800.0 L1582.0,807.2 A18.0,6.8 0 0 0 1618.0,807.2 L1618.0,800.0 Z" fill="url(#ridge)" stroke="#6e5e14" stroke-width="1"/><ellipse cx="1600.0" cy="800.0" rx="18.0" ry="6.8" fill="url(#faceB)" stroke="#ecdf80" stroke-width="1.6"/><ellipse cx="1600.0" cy="800.0" rx="14.4" ry="5.3" fill="none" stroke="#b8a436" stroke-width="0.8" opacity="0.6"/><path d="M1494.0,805.0 L1494.0,812.2 A28.0,6.0 0 0 0 1550.0,812.2 L1550.0,805.0 Z" fill="url(#ridge)" stroke="#6e5e14" stroke-width="1"/><ellipse cx="1522.0" cy="805.0" rx="28.0" ry="6.0" fill="url(#faceC)" stroke="#ecdf80" stroke-width="1.6"/><ellipse cx="1522.0" cy="805.0" rx="22.4" ry="4.6" fill="none" stroke="#b8a436" stroke-width="0.8" opacity="0.6"/><path d="M1128.0,806.0 L1128.0,813.2 A30.0,10.2 0 0 0 1188.0,813.2 L1188.0,806.0 Z" fill="url(#ridge)" stroke="#6e5e14" stroke-width="1"/><ellipse cx="1158.0" cy="806.0" rx="30.0" ry="10.2" fill="url(#face)" stroke="#ecdf80" stroke-width="1.6"/><ellipse cx="1158.0" cy="806.0" rx="24.0" ry="8.0" fill="none" stroke="#b8a436" stroke-width="0.8" opacity="0.6"/><path d="M1078.0,806.0 L1078.0,813.2 A22.0,6.0 0 0 0 1122.0,813.2 L1122.0,806.0 Z" fill="url(#ridge)" stroke="#6e5e14" stroke-width="1"/><ellipse cx="1100.0" cy="806.0" rx="22.0" ry="6.0" fill="url(#faceB)" stroke="#ecdf80" stroke-width="1.6"/><ellipse cx="1100.0" cy="806.0" rx="17.6" ry="4.6" fill="none" stroke="#b8a436" stroke-width="0.8" opacity="0.6"/><path d="M1338.0,809.0 L1338.0,816.2 A29.0,6.0 0 0 0 1396.0,816.2 L1396.0,809.0 Z" fill="url(#ridge)" stroke="#6e5e14" stroke-width="1"/><ellipse cx="1367.0" cy="809.0" rx="29.0" ry="6.0" fill="url(#face)" stroke="#ecdf80" stroke-width="1.6"/><ellipse cx="1367.0" cy="809.0" rx="23.2" ry="4.6" fill="none" stroke="#b8a436" stroke-width="0.8" opacity="0.6"/><path d="M1557.0,810.0 L1557.0,818.2 A28.0,6.8 0 0 0 1613.0,818.2 L1613.0,810.0 Z" fill="url(#ridge)" stroke="#6e5e14" stroke-width="1"/><ellipse cx="1585.0" cy="810.0" rx="28.0" ry="6.8" fill="url(#faceB)" stroke="#ecdf80" stroke-width="1.6"/><ellipse cx="1585.0" cy="810.0" rx="22.4" ry="5.3" fill="none" stroke="#b8a436" stroke-width="0.8" opacity="0.6"/><path d="M1446.0,811.0 L1446.0,819.2 A32.0,10.2 0 0 0 1510.0,819.2 L1510.0,811.0 Z" fill="url(#ridge)" stroke="#6e5e14" stroke-width="1"/><ellipse cx="1478.0" cy="811.0" rx="32.0" ry="10.2" fill="url(#faceC)" stroke="#ecdf80" stroke-width="1.6"/><ellipse cx="1478.0" cy="811.0" rx="25.6" ry="8.0" fill="none" stroke="#b8a436" stroke-width="0.8" opacity="0.6"/><path d="M1214.0,812.0 L1214.0,820.2 A30.0,8.5 0 0 0 1274.0,820.2 L1274.0,812.0 Z" fill="url(#ridge)" stroke="#6e5e14" stroke-width="1"/><ellipse cx="1244.0" cy="812.0" rx="30.0" ry="8.5" fill="url(#face)" stroke="#ecdf80" stroke-width="1.6"/><ellipse cx="1244.0" cy="812.0" rx="24.0" ry="6.6" fill="none" stroke="#b8a436" stroke-width="0.8" opacity="0.6"/><path d="M1507.0,814.0 L1507.0,821.2 A33.0,6.0 0 0 0 1573.0,821.2 L1573.0,814.0 Z" fill="url(#ridge)" stroke="#6e5e14" stroke-width="1"/><ellipse cx="1540.0" cy="814.0" rx="33.0" ry="6.0" fill="url(#faceB)" stroke="#ecdf80" stroke-width="1.6"/><ellipse cx="1540.0" cy="814.0" rx="26.4" ry="4.6" fill="none" stroke="#b8a436" stroke-width="0.8" opacity="0.6"/><path d="M1153.0,815.0 L1153.0,821.2 A17.0,6.8 0 0 0 1187.0,821.2 L1187.0,815.0 Z" fill="url(#ridge)" stroke="#6e5e14" stroke-width="1"/><ellipse cx="1170.0" cy="815.0" rx="17.0" ry="6.8" fill="url(#face)" stroke="#ecdf80" stroke-width="1.6"/><ellipse cx="1170.0" cy="815.0" rx="13.6" ry="5.3" fill="none" stroke="#b8a436" stroke-width="0.8" opacity="0.6"/><path d="M1416.0,815.0 L1416.0,822.2 A24.0,6.8 0 0 0 1464.0,822.2 L1464.0,815.0 Z" fill="url(#ridge)" stroke="#6e5e14" stroke-width="1"/><ellipse cx="1440.0" cy="815.0" rx="24.0" ry="6.8" fill="url(#faceB)" stroke="#ecdf80" stroke-width="1.6"/><ellipse cx="1440.0" cy="815.0" rx="19.2" ry="5.3" fill="none" stroke="#b8a436" stroke-width="0.8" opacity="0.6"/><path d="M1584.0,818.0 L1584.0,825.2 A16.0,6.8 0 0 0 1616.0,825.2 L1616.0,818.0 Z" fill="url(#ridge)" stroke="#6e5e14" stroke-width="1"/><ellipse cx="1600.0" cy="818.0" rx="16.0" ry="6.8" fill="url(#faceC)" stroke="#ecdf80" stroke-width="1.6"/><ellipse cx="1600.0" cy="818.0" rx="12.8" ry="5.3" fill="none" stroke="#b8a436" stroke-width="0.8" opacity="0.6"/><path d="M1076.0,822.0 L1076.0,830.2 A23.0,6.8 0 0 0 1122.0,830.2 L1122.0,822.0 Z" fill="url(#ridge)" stroke="#6e5e14" stroke-width="1"/><ellipse cx="1099.0" cy="822.0" rx="23.0" ry="6.8" fill="url(#face)" stroke="#ecdf80" stroke-width="1.6"/><ellipse cx="1099.0" cy="822.0" rx="18.4" ry="5.3" fill="none" stroke="#b8a436" stroke-width="0.8" opacity="0.6"/><path d="M1385.0,822.0 L1385.0,830.2 A30.0,8.5 0 0 0 1445.0,830.2 L1445.0,822.0 Z" fill="url(#ridge)" stroke="#6e5e14" stroke-width="1"/><ellipse cx="1415.0" cy="822.0" rx="30.0" ry="8.5" fill="url(#faceB)" stroke="#ecdf80" stroke-width="1.6"/><ellipse cx="1415.0" cy="822.0" rx="24.0" ry="6.6" fill="none" stroke="#b8a436" stroke-width="0.8" opacity="0.6"/><path d="M1174.0,822.0 L1174.0,829.2 A26.0,6.8 0 0 0 1226.0,829.2 L1226.0,822.0 Z" fill="url(#ridge)" stroke="#6e5e14" stroke-width="1"/><ellipse cx="1200.0" cy="822.0" rx="26.0" ry="6.8" fill="url(#face)" stroke="#ecdf80" stroke-width="1.6"/><ellipse cx="1200.0" cy="822.0" rx="20.8" ry="5.3" fill="none" stroke="#b8a436" stroke-width="0.8" opacity="0.6"/><path d="M1272.0,823.0 L1272.0,831.2 A31.0,11.0 0 0 0 1334.0,831.2 L1334.0,823.0 Z" fill="url(#ridge)" stroke="#6e5e14" stroke-width="1"/><ellipse cx="1303.0" cy="823.0" rx="31.0" ry="11.0" fill="url(#faceB)" stroke="#ecdf80" stroke-width="1.6"/><ellipse cx="1303.0" cy="823.0" rx="24.8" ry="8.6" fill="none" stroke="#b8a436" stroke-width="0.8" opacity="0.6"/><path d="M1340.0,823.0 L1340.0,830.2 A25.0,6.8 0 0 0 1390.0,830.2 L1390.0,823.0 Z" fill="url(#ridge)" stroke="#6e5e14" stroke-width="1"/><ellipse cx="1365.0" cy="823.0" rx="25.0" ry="6.8" fill="url(#faceC)" stroke="#ecdf80" stroke-width="1.6"/><ellipse cx="1365.0" cy="823.0" rx="20.0" ry="5.3" fill="none" stroke="#b8a436" stroke-width="0.8" opacity="0.6"/><path d="M1565.0,826.0 L1565.0,833.2 A25.0,6.0 0 0 0 1615.0,833.2 L1615.0,826.0 Z" fill="url(#ridge)" stroke="#6e5e14" stroke-width="1"/><ellipse cx="1590.0" cy="826.0" rx="25.0" ry="6.0" fill="url(#face)" stroke="#ecdf80" stroke-width="1.6"/><ellipse cx="1590.0" cy="826.0" rx="20.0" ry="4.6" fill="none" stroke="#b8a436" stroke-width="0.8" opacity="0.6"/><path d="M1111.0,829.0 L1111.0,836.2 A31.0,9.3 0 0 0 1173.0,836.2 L1173.0,829.0 Z" fill="url(#ridge)" stroke="#6e5e14" stroke-width="1"/><ellipse cx="1142.0" cy="829.0" rx="31.0" ry="9.3" fill="url(#faceB)" stroke="#ecdf80" stroke-width="1.6"/><ellipse cx="1142.0" cy="829.0" rx="24.8" ry="7.3" fill="none" stroke="#b8a436" stroke-width="0.8" opacity="0.6"/><path d="M1506.0,829.0 L1506.0,836.2 A20.0,6.0 0 0 0 1546.0,836.2 L1546.0,829.0 Z" fill="url(#ridge)" stroke="#6e5e14" stroke-width="1"/><ellipse cx="1526.0" cy="829.0" rx="20.0" ry="6.0" fill="url(#face)" stroke="#ecdf80" stroke-width="1.6"/><ellipse cx="1526.0" cy="829.0" rx="16.0" ry="4.6" fill="none" stroke="#b8a436" stroke-width="0.8" opacity="0.6"/><path d="M1240.0,830.0 L1240.0,837.2 A25.0,6.8 0 0 0 1290.0,837.2 L1290.0,830.0 Z" fill="url(#ridge)" stroke="#6e5e14" stroke-width="1"/><ellipse cx="1265.0" cy="830.0" rx="25.0" ry="6.8" fill="url(#faceB)" stroke="#ecdf80" stroke-width="1.6"/><ellipse cx="1265.0" cy="830.0" rx="20.0" ry="5.3" fill="none" stroke="#b8a436" stroke-width="0.8" opacity="0.6"/><path d="M1192.0,833.0 L1192.0,841.2 A30.0,9.3 0 0 0 1252.0,841.2 L1252.0,833.0 Z" fill="url(#ridge)" stroke="#6e5e14" stroke-width="1"/><ellipse cx="1222.0" cy="833.0" rx="30.0" ry="9.3" fill="url(#faceC)" stroke="#ecdf80" stroke-width="1.6"/><ellipse cx="1222.0" cy="833.0" rx="24.0" ry="7.3" fill="none" stroke="#b8a436" stroke-width="0.8" opacity="0.6"/><path d="M1512.0,835.0 L1512.0,842.2 A28.0,6.0 0 0 0 1568.0,842.2 L1568.0,835.0 Z" fill="url(#ridge)" stroke="#6e5e14" stroke-width="1"/><ellipse cx="1540.0" cy="835.0" rx="28.0" ry="6.0" fill="url(#face)" stroke="#ecdf80" stroke-width="1.6"/><ellipse cx="1540.0" cy="835.0" rx="22.4" ry="4.6" fill="none" stroke="#b8a436" stroke-width="0.8" opacity="0.6"/><path d="M1438.0,836.0 L1438.0,843.2 A32.0,6.0 0 0 0 1502.0,843.2 L1502.0,836.0 Z" fill="url(#ridge)" stroke="#6e5e14" stroke-width="1"/><ellipse cx="1470.0" cy="836.0" rx="32.0" ry="6.0" fill="url(#faceB)" stroke="#ecdf80" stroke-width="1.6"/><ellipse cx="1470.0" cy="836.0" rx="25.6" ry="4.6" fill="none" stroke="#b8a436" stroke-width="0.8" opacity="0.6"/><path d="M1349.0,839.0 L1349.0,846.2 A31.0,6.8 0 0 0 1411.0,846.2 L1411.0,839.0 Z" fill="url(#ridge)" stroke="#6e5e14" stroke-width="1"/><ellipse cx="1380.0" cy="839.0" rx="31.0" ry="6.8" fill="url(#face)" stroke="#ecdf80" stroke-width="1.6"/><ellipse cx="1380.0" cy="839.0" rx="24.8" ry="5.3" fill="none" stroke="#b8a436" stroke-width="0.8" opacity="0.6"/><path d="M1394.0,840.0 L1394.0,847.2 A26.0,6.8 0 0 0 1446.0,847.2 L1446.0,840.0 Z" fill="url(#ridge)" stroke="#6e5e14" stroke-width="1"/><ellipse cx="1420.0" cy="840.0" rx="26.0" ry="6.8" fill="url(#faceB)" stroke="#ecdf80" stroke-width="1.6"/><ellipse cx="1420.0" cy="840.0" rx="20.8" ry="5.3" fill="none" stroke="#b8a436" stroke-width="0.8" opacity="0.6"/><path d="M1321.0,840.0 L1321.0,847.2 A24.0,6.0 0 0 0 1369.0,847.2 L1369.0,840.0 Z" fill="url(#ridge)" stroke="#6e5e14" stroke-width="1"/><ellipse cx="1345.0" cy="840.0" rx="24.0" ry="6.0" fill="url(#faceC)" stroke="#ecdf80" stroke-width="1.6"/><ellipse cx="1345.0" cy="840.0" rx="19.2" ry="4.6" fill="none" stroke="#b8a436" stroke-width="0.8" opacity="0.6"/><path d="M1264.0,841.0 L1264.0,848.2 A34.0,5.1 0 0 0 1332.0,848.2 L1332.0,841.0 Z" fill="url(#ridge)" stroke="#6e5e14" stroke-width="1"/><ellipse cx="1298.0" cy="841.0" rx="34.0" ry="5.1" fill="url(#face)" stroke="#ecdf80" stroke-width="1.6"/><ellipse cx="1298.0" cy="841.0" rx="27.2" ry="4.0" fill="none" stroke="#b8a436" stroke-width="0.8" opacity="0.6"/><path d="M1436.0,848.0 L1436.0,855.2 A32.0,6.0 0 0 0 1500.0,855.2 L1500.0,848.0 Z" fill="url(#ridge)" stroke="#6e5e14" stroke-width="1"/><ellipse cx="1468.0" cy="848.0" rx="32.0" ry="6.0" fill="url(#faceB)" stroke="#ecdf80" stroke-width="1.6"/><ellipse cx="1468.0" cy="848.0" rx="25.6" ry="4.6" fill="none" stroke="#b8a436" stroke-width="0.8" opacity="0.6"/><path d="M1275.0,856.0 L1275.0,863.2 A32.0,7.6 0 0 0 1339.0,863.2 L1339.0,856.0 Z" fill="url(#ridge)" stroke="#6e5e14" stroke-width="1"/><ellipse cx="1307.0" cy="856.0" rx="32.0" ry="7.6" fill="url(#face)" stroke="#ecdf80" stroke-width="1.6"/><ellipse cx="1307.0" cy="856.0" rx="25.6" ry="6.0" fill="none" stroke="#b8a436" stroke-width="0.8" opacity="0.6"/><path d="M1340.0,857.0 L1340.0,865.2 A35.0,8.5 0 0 0 1410.0,865.2 L1410.0,857.0 Z" fill="url(#ridge)" stroke="#6e5e14" stroke-width="1"/><ellipse cx="1375.0" cy="857.0" rx="35.0" ry="8.5" fill="url(#faceB)" stroke="#ecdf80" stroke-width="1.6"/><ellipse cx="1375.0" cy="857.0" rx="28.0" ry="6.6" fill="none" stroke="#b8a436" stroke-width="0.8" opacity="0.6"/><path d="M1440.0,857.0 L1440.0,865.2 A32.0,6.8 0 0 0 1504.0,865.2 L1504.0,857.0 Z" fill="url(#ridge)" stroke="#6e5e14" stroke-width="1"/><ellipse cx="1472.0" cy="857.0" rx="32.0" ry="6.8" fill="url(#faceC)" stroke="#ecdf80" stroke-width="1.6"/><ellipse cx="1472.0" cy="857.0" rx="25.6" ry="5.3" fill="none" stroke="#b8a436" stroke-width="0.8" opacity="0.6"/><path d="M1305.0,871.0 L1305.0,878.2 A30.0,6.8 0 0 0 1365.0,878.2 L1365.0,871.0 Z" fill="url(#ridge)" stroke="#6e5e14" stroke-width="1"/><ellipse cx="1335.0" cy="871.0" rx="30.0" ry="6.8" fill="url(#face)" stroke="#ecdf80" stroke-width="1.6"/><ellipse cx="1335.0" cy="871.0" rx="24.0" ry="5.3" fill="none" stroke="#b8a436" stroke-width="0.8" opacity="0.6"/><path d="M1318.0,872.0 L1318.0,879.2 A28.0,6.8 0 0 0 1374.0,879.2 L1374.0,872.0 Z" fill="url(#ridge)" stroke="#6e5e14" stroke-width="1"/><ellipse cx="1346.0" cy="872.0" rx="28.0" ry="6.8" fill="url(#faceB)" stroke="#ecdf80" stroke-width="1.6"/><ellipse cx="1346.0" cy="872.0" rx="22.4" ry="5.3" fill="none" stroke="#b8a436" stroke-width="0.8" opacity="0.6"/><path d="M1294.0,887.0 L1294.0,895.2 A33.0,8.5 0 0 0 1360.0,895.2 L1360.0,887.0 Z" fill="url(#ridge)" stroke="#6e5e14" stroke-width="1"/><ellipse cx="1327.0" cy="887.0" rx="33.0" ry="8.5" fill="url(#face)" stroke="#ecdf80" stroke-width="1.6"/><ellipse cx="1327.0" cy="887.0" rx="26.4" ry="6.6" fill="none" stroke="#b8a436" stroke-width="0.8" opacity="0.6"/>
</svg>


<div class="abs" style="left:1300.5px;top:474px;font-size:35.5px;line-height:1;white-space:nowrap;transform:scaleX(0.835);transform-origin:0 0">Összesen:</div>
<div class="abs" style="left:1227px;top:524px;font-size:41.7px;font-weight:bold;line-height:1;white-space:nowrap;transform:scaleX(0.94);transform-origin:0 0">1239,7</div>
<div class="abs" style="left:1355.5px;top:529px;font-size:35.6px;line-height:1;white-space:nowrap;transform:scaleX(0.93);transform-origin:0 0">millió forint</div>

<div class="foot" style="left:339px;top:988px">Forrás: atlatszo.hu</div>
<div class="foot" style="left:1087px;top:988px;transform:scaleX(0.857)">NÉPSZAVA-grafika – Ruzsenszki Márta</div>
</body></html>
